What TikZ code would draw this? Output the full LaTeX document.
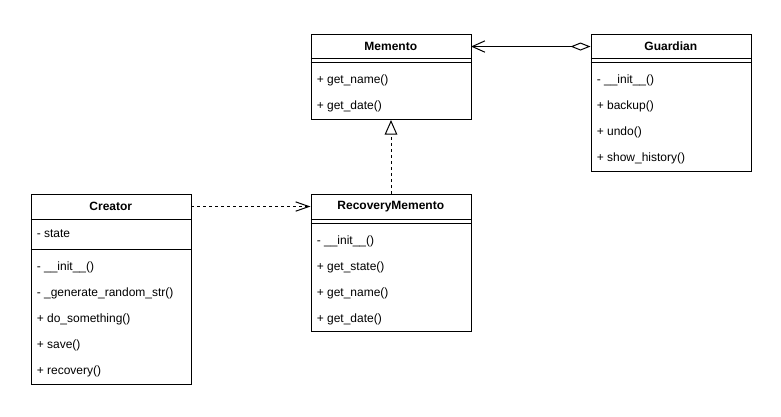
\documentclass[tikz,border=0pt]{standalone}
\usepackage{fontspec}
\setmainfont{Liberation Sans}
\usetikzlibrary{arrows.meta}
\begin{document}
\begin{tikzpicture}[x=0.75pt,y=-0.75pt,
  font=\fontsize{9}{11}\selectfont,
  box/.style={draw, line width=0.75pt, anchor=north west, minimum width=120pt, inner sep=0pt},
  hdr/.style={anchor=north west, minimum width=120pt, minimum height=18.4pt, inner sep=0pt, font=\fontsize{9}{11}\selectfont\bfseries},
  row/.style={anchor=west, inner sep=0pt},
  sepline/.style={line width=0.75pt},
  conn/.style={line width=0.75pt},
  dep/.style={line width=0.75pt, dash pattern=on 2.25pt off 2.25pt}]
\useasboundingbox (0,0) rectangle (781,417);

% Memento
\node[box, minimum height=63.75pt] (m) at (310.5,34) {};
\node[hdr] (mh) at (310.5,34) {Memento};
\draw[sepline] (310.5,58.5) -- (470.5,58.5);
\draw[sepline] (310.5,62.5) -- (470.5,62.5);
\node[row] (m1) at (316.5,80.5) {+ get\_name()};
\node[row] (m2) at (316.5,106.5) {+ get\_date()};

% Guardian
\node[box, minimum height=102.5pt] (g) at (590.5,34) {};
\node[hdr] (gh) at (590.5,34) {Guardian};
\draw[sepline] (590.5,58.5) -- (750.5,58.5);
\draw[sepline] (590.5,62.5) -- (750.5,62.5);
\node[row] (g1) at (596.5,80.5) {- \_\_init\_\_()};
\node[row] (g2) at (596.5,106.5) {+ backup()};
\node[row] (g3) at (596.5,132.5) {+ undo()};
\node[row] (g4) at (596.5,158.5) {+ show\_history()};

% Creator
\node[box, minimum height=142.5pt] (c) at (30.5,194) {};
\node[hdr] (ch) at (30.5,194) {Creator};
\draw[sepline] (30.5,219) -- (190.5,219);
\node[row] (c0) at (36.5,233.5) {- state};
\draw[sepline] (30.5,249) -- (190.5,249);
\node[row] (c1) at (36.5,267.5) {- \_\_init\_\_()};
\node[row] (c2) at (36.5,293.5) {- \_generate\_random\_str()};
\node[row] (c3) at (36.5,319.5) {+ do\_something()};
\node[row] (c4) at (36.5,345.5) {+ save()};
\node[row] (c5) at (36.5,371.5) {+ recovery()};

% RecoveryMemento
\node[box, minimum height=102.5pt] (r) at (310.5,194) {};
\node[hdr] (rh) at (310.5,194) {RecoveryMemento};
\draw[sepline] (310.5,219) -- (470.5,219);
\draw[sepline] (310.5,223) -- (470.5,223);
\node[row] (r1) at (316.5,241.5) {- \_\_init\_\_()};
\node[row] (r2) at (316.5,267.5) {+ get\_state()};
\node[row] (r3) at (316.5,293.5) {+ get\_name()};
\node[row] (r4) at (316.5,319.5) {+ get\_date()};

% connectors
\draw[conn, {Diamond[open, length=15pt, width=6pt]}-{Straight Barb[length=9.5pt, width=8.5pt]}] (gh.west) -- (mh.east);
\draw[dep, -{Straight Barb[length=10pt, width=7pt]}] (ch.east) -- (rh.west);
\draw[dep, -{Triangle[open, length=11pt, width=9.5pt]}] (r.north) -- (m.south);
\end{tikzpicture}
\end{document}
